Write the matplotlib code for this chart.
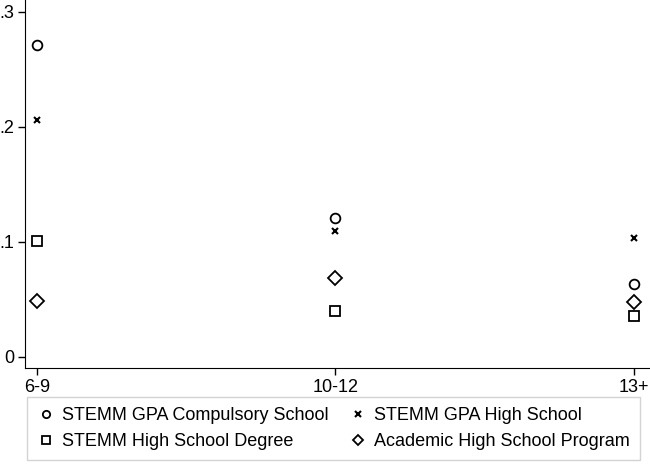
import matplotlib
matplotlib.use("Agg")
import matplotlib.pyplot as plt

plt.rcParams['font.family'] = ['Liberation Sans', 'DejaVu Sans']

# categories and series values
groups = ["6-9", "10-12", "13+"]
gpa_compulsory = [0.271, 0.121, 0.0635]
gpa_highschool = [0.206, 0.1095, 0.1035]
hs_degree = [0.101, 0.040, 0.0357]
academic_program = [0.0487, 0.0687, 0.048]

yticks = [0, 0.1, 0.2, 0.3]
yticklabels = ["0", ".1", ".2", ".3"]

fig = plt.figure(figsize=(6.5, 4.65), dpi=100)
ax = fig.add_axes([25 / 650, 97 / 465, 625 / 650, 368 / 465])

x = list(range(1, len(groups) + 1))
h1, = ax.plot(x, gpa_compulsory, linestyle='none', marker='o', markersize=7,
              markerfacecolor='none', markeredgecolor='black', markeredgewidth=1.3)
h2, = ax.plot(x, gpa_highschool, linestyle='none', marker='x', markersize=5,
              color='black', markeredgewidth=1.5)
h3, = ax.plot(x, hs_degree, linestyle='none', marker='s', markersize=7,
              markerfacecolor='none', markeredgecolor='black', markeredgewidth=1.3)
h4, = ax.plot(x, academic_program, linestyle='none', marker='D', markersize=7,
              markerfacecolor='none', markeredgecolor='black', markeredgewidth=1.3)

ax.set_xlim(0.96, 3.054)
ax.set_ylim(-0.0096, 0.31)
ax.set_xticks(x)
ax.set_xticklabels(groups, fontsize=13)
ax.set_yticks(yticks)
ax.set_yticklabels(yticklabels, fontsize=13)
ax.tick_params(direction='out', length=5, width=1, colors='black', pad=3)
ax.spines['top'].set_visible(False)
ax.spines['right'].set_visible(False)

leg = fig.legend([h1, h3, h2, h4],
                 ["STEMM GPA Compulsory School", "STEMM High School Degree",
                  "STEMM GPA High School", "Academic High School Program"],
                 loc='upper left', bbox_to_anchor=(27 / 650, 3 / 465, 613 / 650, 65 / 465),
                 mode='expand', ncol=2, fontsize=13, frameon=True, fancybox=False,
                 handletextpad=0.4, handlelength=1.0, borderpad=0.55, labelspacing=0.5,
                 borderaxespad=0, markerscale=0.75)
leg.get_frame().set_edgecolor('#c8c8c8')
leg.get_frame().set_linewidth(1)

fig.savefig("out.png", dpi=100)
